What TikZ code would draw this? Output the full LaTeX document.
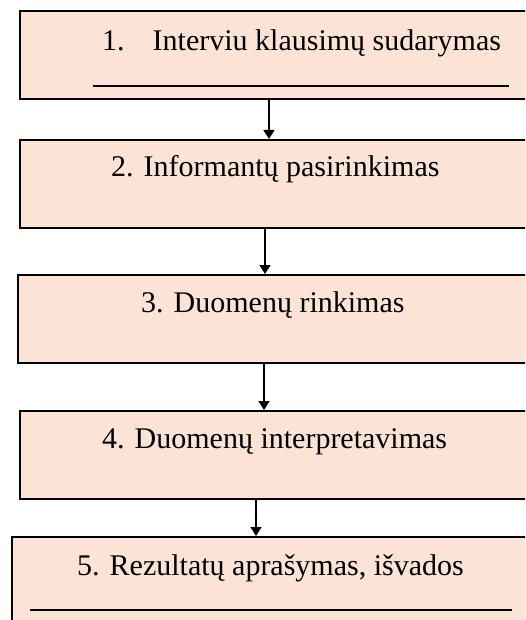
\documentclass[tikz,border=0pt]{standalone}
\usepackage{fontspec}
\setmainfont{Liberation Serif}
\usetikzlibrary{arrows.meta}
\definecolor{peach}{HTML}{FBE4D5}
\begin{document}
\begin{tikzpicture}[x=1pt,y=-1pt,
  stepbox/.style={draw=black,fill=peach,line width=1.8pt,rectangle,anchor=north west,inner sep=0pt,minimum width=600pt,minimum height=88pt},
  steptext/.style={anchor=base west,inner sep=0pt,font=\fontsize{30}{36}\selectfont},
  arr/.style={line width=1.6pt,-{Triangle[width=11pt,length=9pt]}},
  uline/.style={line width=2pt}]
\useasboundingbox (0,0) rectangle (525,620);
\clip (0,0) rectangle (525,620);
\node[stepbox] (b1) at (19,10) {};
\node[stepbox] (b2) at (19,139) {};
\node[stepbox] (b3) at (17,274) {};
\node[stepbox] (b4) at (19,410) {};
\node[stepbox] (b5) at (11,536) {};
\node[steptext] (t1) at (102,51) {1.\hspace{28pt}Interviu klausimų sudarymas};
\node[steptext] (t2) at (111,177) {2. Informantų pasirinkimas};
\node[steptext] (t3) at (141,312) {3. Duomenų rinkimas};
\node[steptext] (t4) at (102,448) {4. Duomenų interpretavimas};
\node[steptext] (t5) at (77,575) {5. Rezultatų aprašymas, išvados};
\coordinate (u1a) at (93,86); \coordinate (u1b) at (509,86);
\coordinate (u5a) at (30,610); \coordinate (u5b) at (512,610);
\draw[uline] (u1a) -- (u1b);
\draw[uline] (u5a) -- (u5b);
\draw[arr] (b1.south -| 269,0) -- (b2.north -| 269,0);
\draw[arr] (b2.south -| 265,0) -- (b3.north -| 265,0);
\draw[arr] (b3.south -| 264,0) -- (b4.north -| 264,0);
\draw[arr] (b4.south -| 256,0) -- (b5.north -| 256,0);
\end{tikzpicture}
\end{document}
